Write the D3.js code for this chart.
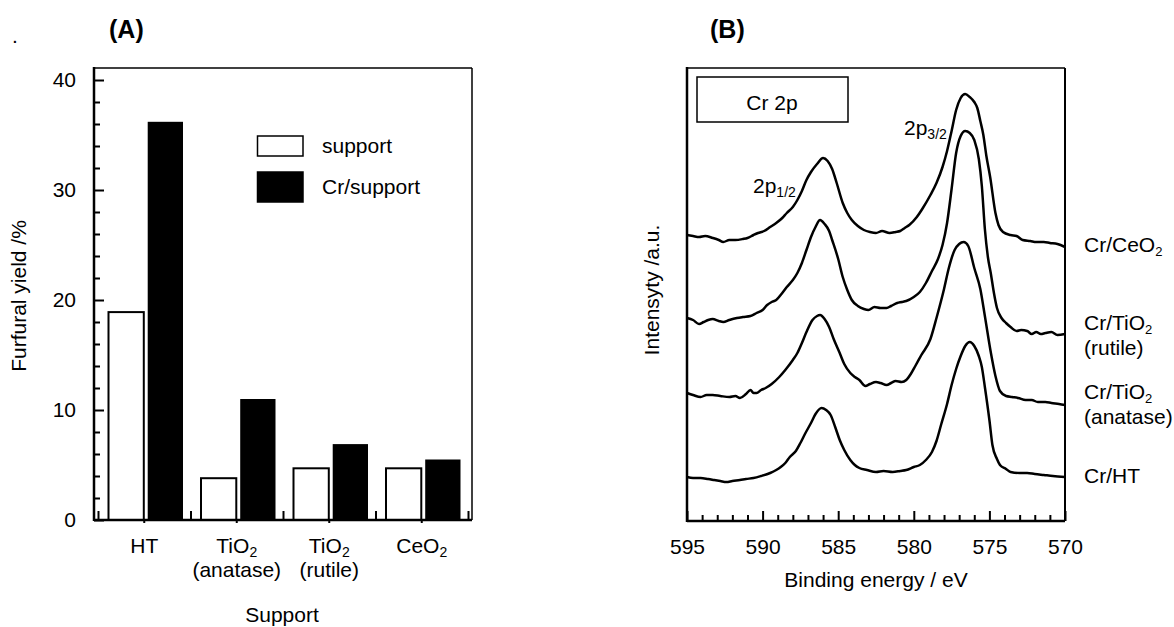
<!DOCTYPE html>
<html>
<head>
<meta charset="utf-8">
<title>Furfural yield and Cr 2p XPS</title>
<script src="https://d3js.org/d3.v7.min.js"></script>
<style>
  body { margin: 0; background: #fff; }
  svg { display: block; font-family: "Liberation Sans", Arial, sans-serif; }
</style>
</head>
<body>
<svg width="1174" height="627"></svg>
<script>
// (A) furfural yield per support
const categories = ["HT", "TiO2 (anatase)", "TiO2 (rutile)", "CeO2"];
const categoryMain = ["HT", "TiO", "TiO", "CeO"];
const categorySub = ["", "2", "2", "2"];
const categorySecond = ["", "(anatase)", "(rutile)", ""];
const seriesNames = ["support", "Cr/support"];
const supportYield = [18.9, 3.8, 4.7, 4.7];
const crSupportYield = [36.2, 11.0, 6.9, 5.5];
const yTicksA = [0, 10, 20, 30, 40];

// (B) Cr 2p XPS, [binding energy / eV, intensity / a.u.]
const crCeO2 = [[595.0,286],[594.6,285],[594.2,284],[593.8,285],[593.3,283],[592.9,281],[592.6,279],[592.2,281],[591.8,281],[591.3,282],[591.0,283],[590.6,286],[590.3,288],[589.9,290],[589.5,294],[589.1,298],[588.7,303],[588.4,308],[588.0,314],[587.7,321],[587.4,330],[587.1,341],[586.8,349],[586.4,357],[586.0,363],[585.7,360],[585.4,352],[585.1,338],[584.7,318],[584.4,308],[584.1,301],[583.7,295],[583.3,291],[582.9,289],[582.5,288],[582.1,290],[581.6,288],[581.2,289],[580.9,290],[580.6,293],[580.3,296],[579.8,304],[579.4,313],[578.9,326],[578.5,338],[578.1,354],[577.8,370],[577.5,390],[577.2,411],[576.9,423],[576.6,427],[576.3,424],[576.0,419],[575.8,413],[575.6,400],[575.4,386],[575.2,365],[574.95,344],[574.6,308],[574.4,296],[574.1,289],[573.6,286],[573.2,285],[572.8,281],[572.3,280],[571.9,279],[571.4,279],[571.0,278],[570.5,277],[570.0,274]];
const crTiO2Rutile = [[595.0,203],[594.6,201],[594.2,197],[593.9,199],[593.6,201],[593.3,202],[592.9,200],[592.6,199],[592.2,201],[591.7,203],[591.3,204],[590.8,205],[590.4,208],[590.0,211],[589.7,216],[589.4,219],[589.1,221],[588.7,228],[588.4,234],[588.0,241],[587.7,248],[587.4,258],[587.1,271],[586.8,284],[586.5,294],[586.2,301],[585.9,297],[585.6,290],[585.4,281],[585.0,262],[584.7,244],[584.4,231],[584.1,221],[583.7,215],[583.3,212],[583.0,211],[582.6,214],[582.2,213],[581.8,213],[581.5,215],[581.1,218],[580.8,219],[580.5,220],[580.0,224],[579.6,229],[579.2,238],[578.8,250],[578.4,262],[578.1,276],[577.8,298],[577.5,332],[577.2,368],[576.9,385],[576.6,390],[576.3,388],[576.0,381],[575.7,362],[575.5,335],[575.3,292],[575.1,264],[574.9,247],[574.7,228],[574.5,213],[574.2,203],[573.9,198],[573.6,194],[573.2,190],[572.9,191],[572.5,190],[572.2,187],[571.9,189],[571.6,187],[571.3,188],[570.9,189],[570.5,186],[570.0,187]];
const crTiO2Anatase = [[595.0,128],[594.6,126],[594.1,124],[593.7,126],[593.3,126],[592.8,125],[592.2,124],[591.8,125],[591.5,123],[591.1,127],[590.8,131],[590.6,128],[590.4,128],[590.1,131],[589.8,133],[589.4,137],[588.9,144],[588.5,151],[588.0,161],[587.7,168],[587.4,178],[587.1,189],[586.7,201],[586.4,205],[586.2,206],[585.9,202],[585.6,194],[585.3,182],[584.9,168],[584.6,157],[584.2,148],[583.9,144],[583.6,141],[583.2,135],[582.9,137],[582.5,139],[582.2,138],[581.8,136],[581.5,138],[581.2,140],[580.8,139],[580.5,141],[580.2,147],[579.9,155],[579.5,166],[578.9,182],[578.5,203],[578.0,232],[577.7,252],[577.3,271],[577.0,277],[576.7,279],[576.4,275],[576.0,253],[575.6,232],[575.3,205],[574.9,168],[574.6,145],[574.3,130],[573.9,125],[573.5,124],[573.1,123],[572.6,121],[572.2,121],[571.8,119],[571.3,119],[570.9,118],[570.4,117],[570.0,116]];
const crHT = [[595.0,44],[594.6,43],[594.1,43],[593.6,42],[593.2,41],[592.8,40],[592.4,39],[592.0,40],[591.5,41],[591.1,42],[590.6,43],[590.1,45],[589.5,48],[589.1,51],[588.8,54],[588.5,58],[588.2,64],[587.8,70],[587.5,78],[587.2,87],[586.8,98],[586.5,107],[586.1,113],[585.8,111],[585.5,106],[585.2,94],[584.9,81],[584.6,71],[584.2,61],[583.9,56],[583.6,53],[583.1,51],[582.5,49],[582.0,50],[581.4,49],[580.9,50],[580.5,51],[580.0,54],[579.6,56],[579.2,61],[578.8,69],[578.5,80],[578.2,96],[577.8,117],[577.5,136],[577.2,152],[576.9,165],[576.6,175],[576.3,179],[576.0,175],[575.7,165],[575.5,154],[575.3,134],[575.0,101],[574.8,76],[574.5,62],[574.3,56],[573.9,52],[573.6,49],[573.0,48],[572.5,48],[572.0,47],[571.4,46],[570.8,45],[570.0,44]];
const spectra = [crCeO2, crTiO2Rutile, crTiO2Anatase, crHT];
const spectraMain = ["Cr/CeO", "Cr/TiO", "Cr/TiO", "Cr/HT"];
const spectraSub = ["2", "2", "2", ""];
const spectraSecond = ["", "(rutile)", "(anatase)", ""];
const xTicksB = [595, 590, 585, 580, 575, 570];

const FS = 21;
const svg = d3.select("svg");
svg.append("rect").attr("width", 1174).attr("height", 627).attr("fill", "#fff");

// helper: text with a subscript part
function subText(sel, main, sub, size) {
  sel.append("tspan").text(main);
  if (sub) {
    sel.append("tspan").attr("dy", 4).attr("font-size", size).text(sub);
  }
}

// ---------------- Panel A ----------------
const A = { left: 94, right: 472, top: 68, bottom: 520 };
const yA = d3.scaleLinear().domain([0, 40]).range([520, 80]);
const x0 = d3.scaleBand().domain(categories).range([98, 468]);
const x1 = d3.scaleBand().domain(seriesNames).range([10.5, 85]).paddingInner(0.1);
const xBound = d3.scaleLinear().domain([0, categories.length]).range([98, 468]);

const gA = svg.append("g");

svg.append("text").attr("x", 12).attr("y", 43).attr("font-size", FS).text(".");
svg.append("text").attr("x", 109).attr("y", 38).attr("font-size", 25)
  .attr("font-weight", "bold").text("(A)");

const barData = categories.map((c, i) => [
  { cat: c, key: seriesNames[0], v: supportYield[i] },
  { cat: c, key: seriesNames[1], v: crSupportYield[i] }
]).flat();

gA.selectAll("rect.bar")
  .data(barData)
  .enter()
  .append("rect")
  .attr("class", "bar")
  .attr("x", d => x0(d.cat) + x1(d.key))
  .attr("y", d => yA(d.v))
  .attr("width", x1.bandwidth())
  .attr("height", d => yA(0) - yA(d.v))
  .attr("fill", d => d.key === "support" ? "#fff" : "#000")
  .attr("stroke", "#000")
  .attr("stroke-width", d => d.key === "support" ? 2 : 0);

// frame
gA.append("line").attr("x1", A.left).attr("x2", A.right).attr("y1", A.top).attr("y2", A.top)
  .attr("stroke", "#000").attr("stroke-width", 1.5);
gA.append("line").attr("x1", A.right).attr("x2", A.right).attr("y1", A.top).attr("y2", A.bottom)
  .attr("stroke", "#000").attr("stroke-width", 1.5);

// y axis (minor + major, inward)
gA.append("g").attr("transform", `translate(${A.left},0)`)
  .call(d3.axisLeft(yA).tickValues(d3.range(0, 41, 2).filter(v => v % 10)).tickSize(-6).tickFormat(""))
  .call(g => g.select(".domain").remove());
gA.append("g").attr("transform", `translate(${A.left},0)`)
  .call(d3.axisLeft(yA).tickValues(yTicksA).tickSize(-10).tickPadding(18))
  .call(g => g.select(".domain").remove())
  .call(g => g.selectAll("text").attr("font-size", FS).attr("font-family", null).attr("fill", "#000"));

// x axis: boundary ticks up, small centre ticks down
gA.append("g").attr("transform", `translate(0,${A.bottom})`)
  .call(d3.axisBottom(xBound).tickValues(d3.range(0, categories.length + 1)).tickSize(-9).tickFormat(""))
  .call(g => g.select(".domain").remove());
gA.append("g").attr("transform", `translate(0,${A.bottom})`)
  .call(d3.axisBottom(x0).tickSize(3).tickFormat(""))
  .call(g => g.select(".domain").remove());
gA.selectAll(".tick line").attr("stroke", "#000").attr("stroke-width", 2);

gA.append("line").attr("x1", A.left).attr("x2", A.left).attr("y1", A.top - 1).attr("y2", A.bottom + 1)
  .attr("stroke", "#000").attr("stroke-width", 2.5);
gA.append("line").attr("x1", A.left).attr("x2", A.right).attr("y1", A.bottom).attr("y2", A.bottom)
  .attr("stroke", "#000").attr("stroke-width", 2.5);

// category labels
categories.forEach((c, i) => {
  const cx = x0(c) + x0.bandwidth() / 2;
  const t = gA.append("text").attr("x", cx).attr("y", 553)
    .attr("text-anchor", "middle").attr("font-size", FS);
  subText(t, categoryMain[i], categorySub[i], 14);
  if (categorySecond[i]) {
    gA.append("text").attr("x", cx).attr("y", 577)
      .attr("text-anchor", "middle").attr("font-size", FS).text(categorySecond[i]);
  }
});

gA.append("text").attr("x", 282).attr("y", 622).attr("text-anchor", "middle")
  .attr("font-size", FS).text("Support");
gA.append("text").attr("transform", "translate(26,296) rotate(-90)")
  .attr("text-anchor", "middle").attr("font-size", FS).text("Furfural yield /%");

// legend
const legendBoxes = [{ y: 136, h: 20 }, { y: 172, h: 30 }];
seriesNames.forEach((s, i) => {
  gA.append("rect").attr("x", 257.5).attr("y", legendBoxes[i].y).attr("width", 45.5)
    .attr("height", legendBoxes[i].h)
    .attr("fill", i === 0 ? "#fff" : "#000").attr("stroke", "#000").attr("stroke-width", 1.5);
  gA.append("text").attr("x", 322).attr("y", legendBoxes[i].y + legendBoxes[i].h / 2 + 7)
    .attr("font-size", FS).text(s);
});

// ---------------- Panel B ----------------
const B = { left: 687, right: 1065, top: 68, bottom: 521 };
const xB = d3.scaleLinear().domain([595, 570]).range([B.left, B.right]);
const yB = d3.scaleLinear().domain([0, 453]).range([B.bottom, B.top]);
const gB = svg.append("g");

svg.append("text").attr("x", 710).attr("y", 38).attr("font-size", 25)
  .attr("font-weight", "bold").text("(B)");

const line = d3.line()
  .x(d => xB(d[0]))
  .y(d => yB(d[1]))
  .curve(d3.curveMonotoneX);

gB.selectAll("path.spec")
  .data(spectra)
  .enter()
  .append("path")
  .attr("class", "spec")
  .attr("d", line)
  .attr("fill", "none")
  .attr("stroke", "#000")
  .attr("stroke-width", 2.5)
  .attr("stroke-linejoin", "round");

// frame
gB.append("line").attr("x1", B.left).attr("x2", B.right).attr("y1", B.top).attr("y2", B.top)
  .attr("stroke", "#000").attr("stroke-width", 1.5);
gB.append("line").attr("x1", B.right).attr("x2", B.right).attr("y1", B.top).attr("y2", B.bottom)
  .attr("stroke", "#000").attr("stroke-width", 2);

gB.append("g").attr("transform", `translate(0,${B.bottom})`)
  .call(d3.axisBottom(xB).tickValues(d3.range(570, 596, 1).filter(v => v % 5)).tickSize(-6).tickFormat(""))
  .call(g => g.select(".domain").remove());
gB.append("g").attr("transform", `translate(0,${B.bottom})`)
  .call(d3.axisBottom(xB).tickValues(xTicksB).tickSize(-10).tickPadding(18).tickFormat(d3.format("d")))
  .call(g => g.select(".domain").remove())
  .call(g => g.selectAll("text").attr("font-size", FS).attr("font-family", null).attr("fill", "#000"));
gB.selectAll(".tick line").attr("stroke", "#000").attr("stroke-width", 2);

gB.append("line").attr("x1", B.left).attr("x2", B.left).attr("y1", B.top - 1).attr("y2", B.bottom + 1)
  .attr("stroke", "#000").attr("stroke-width", 2.5);
gB.append("line").attr("x1", B.left).attr("x2", B.right).attr("y1", B.bottom).attr("y2", B.bottom)
  .attr("stroke", "#000").attr("stroke-width", 2.5);

gB.append("text").attr("x", 876).attr("y", 587).attr("text-anchor", "middle")
  .attr("font-size", FS).text("Binding energy / eV");
gB.append("text").attr("transform", "translate(659,290) rotate(-90)")
  .attr("text-anchor", "middle").attr("font-size", FS).text("Intensyty /a.u.");

// Cr 2p box
gB.append("rect").attr("x", 697).attr("y", 77).attr("width", 151).attr("height", 45)
  .attr("fill", "#fff").attr("stroke", "#000").attr("stroke-width", 1.5);
gB.append("text").attr("x", 772).attr("y", 110).attr("text-anchor", "middle")
  .attr("font-size", FS).text("Cr 2p");

// peak labels
const p12 = gB.append("text").attr("x", 753).attr("y", 193).attr("font-size", FS);
subText(p12, "2p", "1/2", 14);
const p32 = gB.append("text").attr("x", 904).attr("y", 135).attr("font-size", FS);
subText(p32, "2p", "3/2", 14);

// sample labels on the right
const labelY = [252, 330, 399, 483];
spectraMain.forEach((m, i) => {
  const t = gB.append("text").attr("x", 1084).attr("y", labelY[i]).attr("font-size", FS);
  subText(t, m, spectraSub[i], 13);
  if (spectraSecond[i]) {
    gB.append("text").attr("x", 1084).attr("y", labelY[i] + 25)
      .attr("font-size", FS).text(spectraSecond[i]);
  }
});
</script>
</body>
</html>
